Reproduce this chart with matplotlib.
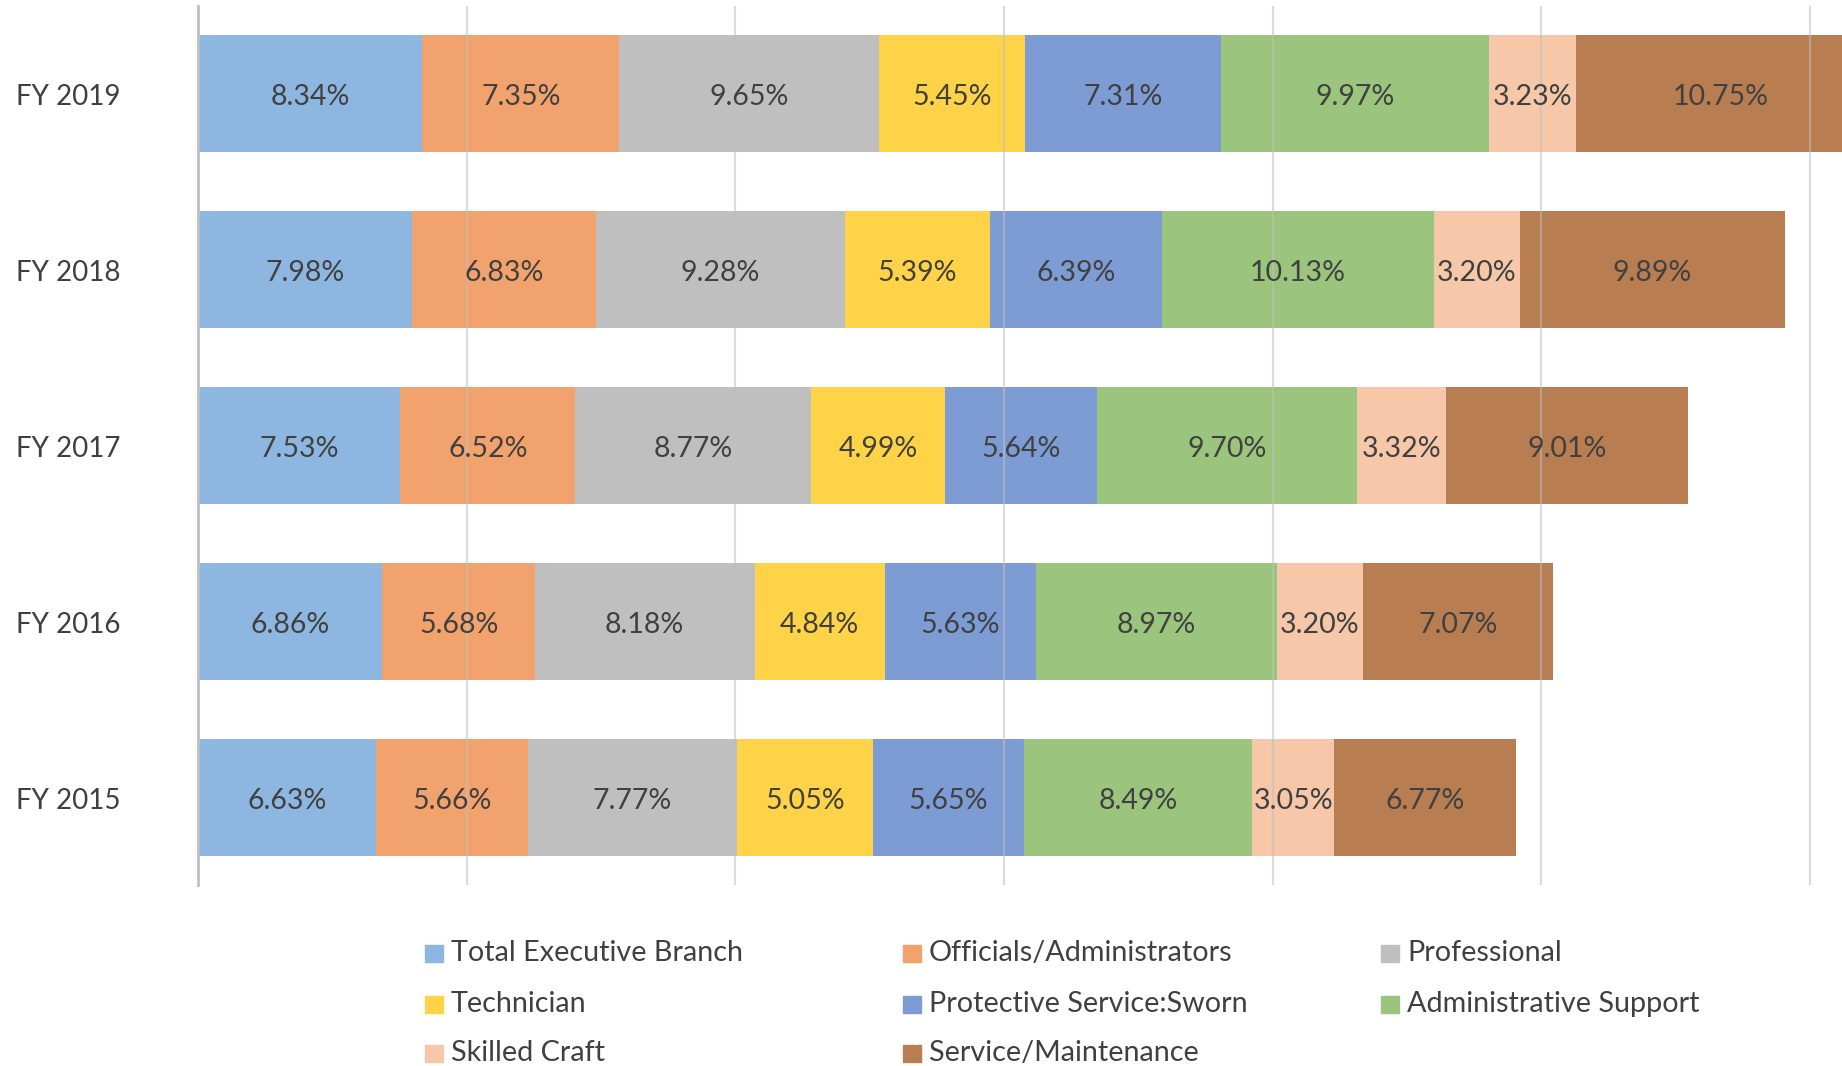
import matplotlib
matplotlib.use('Agg')
import matplotlib.pyplot as plt
import matplotlib.transforms as mtransforms
from matplotlib.patches import Rectangle

plt.rcParams['font.family'] = ['Lato', 'DejaVu Sans']

categories = ['FY 2015', 'FY 2016', 'FY 2017', 'FY 2018', 'FY 2019']
series_names = ['Total Executive Branch', 'Officials/Administrators', 'Professional',
                'Technician', 'Protective Service:Sworn', 'Administrative Support',
                'Skilled Craft', 'Service/Maintenance']
total_exec = [6.63, 6.86, 7.53, 7.98, 8.34]
officials = [5.66, 5.68, 6.52, 6.83, 7.35]
professional = [7.77, 8.18, 8.77, 9.28, 9.65]
technician = [5.05, 4.84, 4.99, 5.39, 5.45]
protective = [5.65, 5.63, 5.64, 6.39, 7.31]
admin_support = [8.49, 8.97, 9.70, 10.13, 9.97]
skilled_craft = [3.05, 3.20, 3.32, 3.20, 3.23]
service_maint = [6.77, 7.07, 9.01, 9.89, 10.75]

series = [total_exec, officials, professional, technician,
          protective, admin_support, skilled_craft, service_maint]
colors = ['#8DB7E0', '#F2A36D', '#BFBFBF', '#FFD348',
          '#7D9CD4', '#9BC47D', '#F6C7A8', '#B87E52']

fig = plt.figure(figsize=(18.42, 10.66), dpi=100)
ax = fig.add_axes([0.1075, 0.1698, 0.8925, 0.8246])

# labels sit a few pixels below the bar centre, as in the original
label_trans = mtransforms.offset_copy(ax.transData, fig, y=-3.5, units='dots')

y = list(range(len(categories)))
left = [0.0] * len(categories)
for name, vals, col in zip(series_names, series, colors):
    bars = ax.barh(y, vals, left=left, height=0.665, color=col, label=name, zorder=1)
    for b, v in zip(bars, vals):
        ax.text(b.get_x() + b.get_width() / 2, b.get_y() + b.get_height() / 2,
                f'{v:.2f}%', ha='center', va='center', fontsize=20.5,
                color='#404040', zorder=3, transform=label_trans)
    left = [l + v for l, v in zip(left, vals)]

ax.set_xlim(0, 61.2)
ax.set_ylim(-0.5, len(categories) - 0.5)
ax.set_xticks(range(0, 61, 10))
ax.set_xticklabels([])
ax.tick_params(axis='both', length=0)
ax.set_yticks([])
ax.grid(axis='x', color='#BFBFBF', alpha=0.55, linewidth=1.5, zorder=2)
ax.set_axisbelow(False)
for s in ['top', 'right', 'bottom']:
    ax.spines[s].set_visible(False)
ax.spines['left'].set_color('#BFBFBF')
ax.spines['left'].set_linewidth(2)
ax.spines['left'].set_zorder(4)

# category labels to the left of the axis
trans = mtransforms.blended_transform_factory(fig.transFigure, label_trans)
for yi, cat in zip(y, categories):
    ax.text(0.0369, yi, cat, transform=trans, ha='center', va='center',
            fontsize=20, color='#404040')

# legend, three equal-width columns as in the original
col_x = [0.2307, 0.4902, 0.7497]
row_y = [0.1060, 0.0580, 0.0120]
sq_w, sq_h = 18 / 1842, 17 / 1066
for i, (name, col) in enumerate(zip(series_names, colors)):
    cx = col_x[i % 3]
    ry = row_y[i // 3]
    fig.patches.append(Rectangle((cx, ry - sq_h / 2), sq_w, sq_h, color=col,
                                 transform=fig.transFigure, figure=fig))
    fig.text(cx + sq_w + 8 / 1842, ry, name, ha='left', va='center',
             fontsize=20.7, color='#404040')

fig.savefig('out.png', dpi=100)
